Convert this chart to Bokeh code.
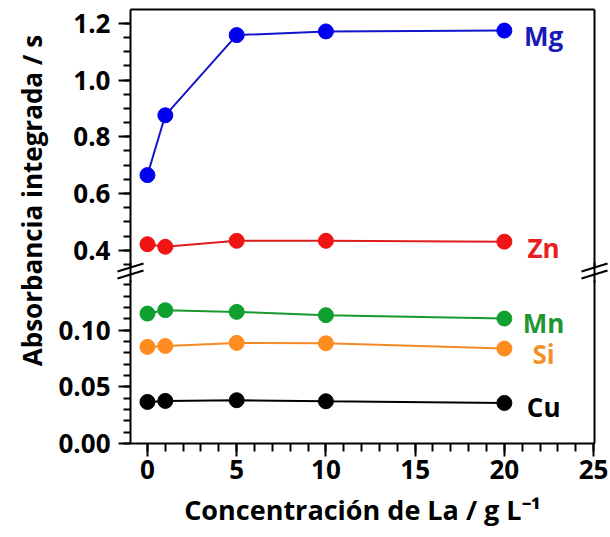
import math
from bokeh.plotting import figure
from bokeh.layouts import column
from bokeh.models import Range1d, FixedTicker, NumeralTickFormatter, LinearAxis, GridBox
from bokeh.core.properties import value
from bokeh.embed import file_html
from bokeh.resources import INLINE

# ---------------- data ----------------
conc = [0, 1, 5, 10, 20]
mg = [0.665, 0.876, 1.159, 1.172, 1.175]
zn = [0.421, 0.412, 0.433, 0.433, 0.430]
mn = [0.1147, 0.1177, 0.1162, 0.1133, 0.1103]
si = [0.0853, 0.0861, 0.0888, 0.0885, 0.0838]
cu = [0.0367, 0.0376, 0.0382, 0.0373, 0.0358]

x_ticks = [0, 5, 10, 15, 20, 25]
top_ticks = [0.4, 0.6, 0.8, 1.0, 1.2]
bot_ticks = [0.0, 0.05, 0.10]

FONT = value("Open Sans")

series = [
    ("Mg", mg, "#1414cc", "#0000f0", "#1a1ab8", "top"),
    ("Zn", zn, "#dd1c1c", "#f01414", "#e62020", "top"),
    ("Mn", mn, "#1a9a2e", "#10a030", "#1e9632", "bot"),
    ("Si", si, "#f58a25", "#ff8c1e", "#f5912d", "bot"),
    ("Cu", cu, "#000000", "#000000", "#000000", "bot"),
]
label_x = 22.2
label_y = {"Mg": 1.156, "Zn": 0.407, "Mn": 0.1068, "Si": 0.0794, "Cu": 0.0318}

X0, X1 = -0.95, 25.05
TOP0, TOP1 = 0.3353, 1.2494
xr = Range1d(X0, X1)

W, H = 610, 537
BL, BR = 130, 16
TOP_H = 268
BOT_H = H - TOP_H


def style_axis(ax, ticks, minor, fmt):
    ax.ticker = FixedTicker(ticks=ticks, minor_ticks=minor)
    if fmt:
        ax.formatter = NumeralTickFormatter(format=fmt)
    ax.axis_line_width = 2
    ax.axis_line_color = "black"
    ax.major_tick_line_width = 2
    ax.minor_tick_line_width = 2
    ax.major_tick_in = 0
    ax.minor_tick_in = 0
    ax.major_tick_out = 12
    ax.minor_tick_out = 7
    ax.major_label_text_font = "Open Sans"
    ax.major_label_text_font_style = "bold"
    ax.major_label_text_font_size = "26px"
    ax.major_label_text_color = "black"


def line_axis(place, p):
    ax = LinearAxis(ticker=FixedTicker(ticks=[]), major_label_text_font_size="0px",
                    major_tick_out=0, major_tick_in=0, minor_tick_out=0, minor_tick_in=0,
                    axis_line_width=2, axis_line_color="black")
    p.add_layout(ax, place)


# ---------------- top panel ----------------
p_top = figure(width=W, height=TOP_H, x_range=xr, y_range=Range1d(TOP0, TOP1),
               output_backend="svg", toolbar_location=None,
               x_axis_location=None, y_axis_location="left",
               min_border_left=BL, min_border_right=BR, min_border_top=9, min_border_bottom=0)
p_top.grid.visible = False
p_top.outline_line_color = None
style_axis(p_top.yaxis[0], top_ticks,
           [0.35, 0.40, 0.45, 0.50, 0.55, 0.60, 0.65, 0.70, 0.75, 0.80, 0.85, 0.90,
            0.95, 1.00, 1.05, 1.10, 1.15, 1.20], "0.0")
p_top.yaxis[0].major_label_standoff = 8
line_axis("above", p_top)
line_axis("right", p_top)

# ---------------- bottom panel ----------------
p_bot = figure(width=W, height=BOT_H, x_range=xr, y_range=Range1d(0.0, 0.1439),
               output_backend="svg", toolbar_location=None,
               min_border_left=BL, min_border_right=BR, min_border_top=12, min_border_bottom=94)
p_bot.grid.visible = False
p_bot.outline_line_color = None
style_axis(p_bot.yaxis[0], bot_ticks,
           [0.0, 0.01, 0.02, 0.03, 0.04, 0.05, 0.06, 0.07, 0.08, 0.09, 0.10, 0.11,
            0.12, 0.13, 0.14], "0.00")
p_bot.yaxis[0].major_label_standoff = 8
style_axis(p_bot.xaxis[0], x_ticks, list(range(0, 26)), "0")
p_bot.xaxis[0].major_tick_out = 13
p_bot.xaxis[0].minor_tick_out = 8
p_bot.xaxis[0].major_label_standoff = 3
p_bot.xaxis[0].axis_label = "Concentración de La / g L\u207b\u00b9"
p_bot.xaxis[0].axis_label_text_font = "Open Sans"
p_bot.xaxis[0].axis_label_text_font_style = "bold"
p_bot.xaxis[0].axis_label_text_font_size = "27px"
p_bot.xaxis[0].axis_label_text_color = "black"
p_bot.xaxis[0].axis_label_standoff = 9
line_axis("right", p_bot)

# ---------------- data marks ----------------
for name, vals, lc, mc, tc, panel in series:
    p = p_top if panel == "top" else p_bot
    p.line(conc, vals, line_color=lc, line_width=2)
    p.scatter(conc, vals, size=15, fill_color=mc, line_color=mc)
    p.text(x=[label_x], y=[label_y[name]], text=[name], text_color=tc,
           text_font=FONT, text_font_style="bold", text_font_size="26px",
           text_align="center", text_baseline="middle")

# ---------------- overlay: axis breaks + y label ----------------
p_dec = figure(width=W, height=H, x_range=Range1d(0, W), y_range=Range1d(0, H),
               output_backend="svg", toolbar_location=None,
               x_axis_location=None, y_axis_location=None, min_border=0)
p_dec.grid.visible = False
p_dec.outline_line_color = None
p_dec.background_fill_alpha = 0
p_dec.border_fill_alpha = 0

brk_x0, brk_y0, brk_x1, brk_y1 = [], [], [], []
for ax_px in (130, 594):
    for (a, b), (c, d) in [((ax_px, 262), (ax_px, 282)),
                           ((ax_px - 13, 271), (ax_px + 13, 263)),
                           ((ax_px - 13, 278), (ax_px + 13, 270))]:
        brk_x0.append(a); brk_y0.append(H - b); brk_x1.append(c); brk_y1.append(H - d)
p_dec.segment(x0=brk_x0, y0=brk_y0, x1=brk_x1, y1=brk_y1, line_color="black", line_width=2)

p_dec.text(x=[31], y=[H - 200], text=["Absorbancia integrada / s"], angle=math.pi / 2,
           text_align="center", text_baseline="middle", text_font=FONT,
           text_font_style="bold", text_font_size="26px", text_color="black")

main = column(p_top, p_bot)
layout = GridBox(children=[(main, 0, 0), (p_dec, 0, 0)])
open("out.html", "w").write(file_html(layout, INLINE))
